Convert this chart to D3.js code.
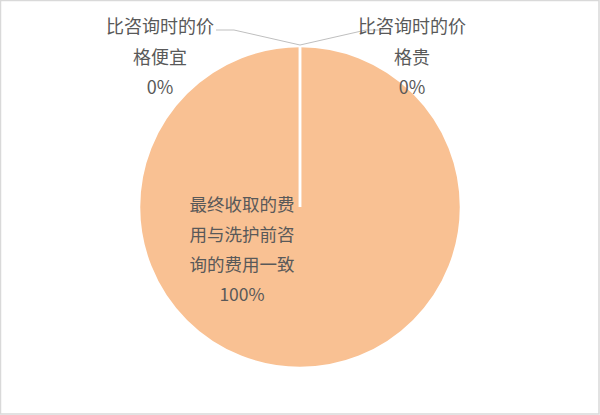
<!DOCTYPE html>
<html>
<head>
<meta charset="utf-8">
<script src="https://cdn.jsdelivr.net/npm/d3@7"></script>
<style>
  html, body { margin: 0; padding: 0; background: #fff; }
  svg { display: block; }
  text { font-family: "Noto Sans CJK SC", "Noto Sans", sans-serif; fill: #595959; }
</style>
</head>
<body>
<div id="chart"></div>
<script>
// data
var categories = ["最终收取的费用与洗护前咨询的费用一致", "比咨询时的价格便宜", "比咨询时的价格贵"];
var values = [100, 0, 0];
var labelLines = [
    ["最终收取的费", "用与洗护前咨", "询的费用一致"],
    ["比咨询时的价", "格便宜"],
    ["比咨询时的价", "格贵"]
];
var percentLabels = ["100%", "0%", "0%"];

var width = 600, height = 415;
var r = 161;
var cx = 300, cy = 207;

var svg = d3.select("#chart").append("svg")
    .attr("width", width).attr("height", height);

// chart border
svg.append("rect").attr("x", 0.5).attr("y", 0.5)
    .attr("width", width - 1.5).attr("height", height - 1.5)
    .style("fill", "#fff").style("stroke", "#d9d9d9").style("stroke-width", 1.5);

var pie = d3.pie().sort(null).value(function (d) { return d; });
var arcs = pie(values);
var arc = d3.arc().innerRadius(0).outerRadius(r);

var g = svg.append("g").attr("transform", "translate(" + cx + "," + cy + ")");

g.selectAll("path.slice").data(arcs).enter().append("path")
    .attr("class", "slice")
    .attr("d", arc)
    .style("fill", "#f9c193")
    .style("stroke", "#fff")
    .style("stroke-width", 2.5);

// labels for zero slices, spread left/right of the slice edge like Excel does
var side = [0, -1, 1];
var lineHeight = 31;
arcs.forEach(function (a, i) {
    if (a.value === 0) {
        var ang = a.startAngle;
        var ex = Math.sin(ang) * r, ey = -Math.cos(ang) * (r + 1);
        var lx = side[i] * 66, ly = ey - 15;
        var tx = side[i] * 140 - (side[i] < 0 ? 0 : 28);
        g.append("polyline")
            .attr("points", [[ex, ey], [lx, ly], [lx + side[i] * 18, ly]].map(function (p) { return p.join(","); }).join(" "))
            .style("fill", "none").style("stroke", "#bfbfbf").style("stroke-width", 1);
        var t = g.append("text").attr("text-anchor", "middle").style("font-size", "18px");
        labelLines[i].concat([percentLabels[i]]).forEach(function (s, k) {
            t.append("tspan").attr("x", tx).attr("y", ly + 3 + k * lineHeight - (k === 2 ? 1 : 0)).text(s);
        });
    } else {
        var t2 = g.append("text").attr("text-anchor", "middle").style("font-size", "17.5px");
        var px = -58, py = 4;
        labelLines[i].concat([percentLabels[i]]).forEach(function (s, k) {
            t2.append("tspan").attr("x", px).attr("y", py + k * 30).text(s);
        });
    }
});
</script>
</body>
</html>
